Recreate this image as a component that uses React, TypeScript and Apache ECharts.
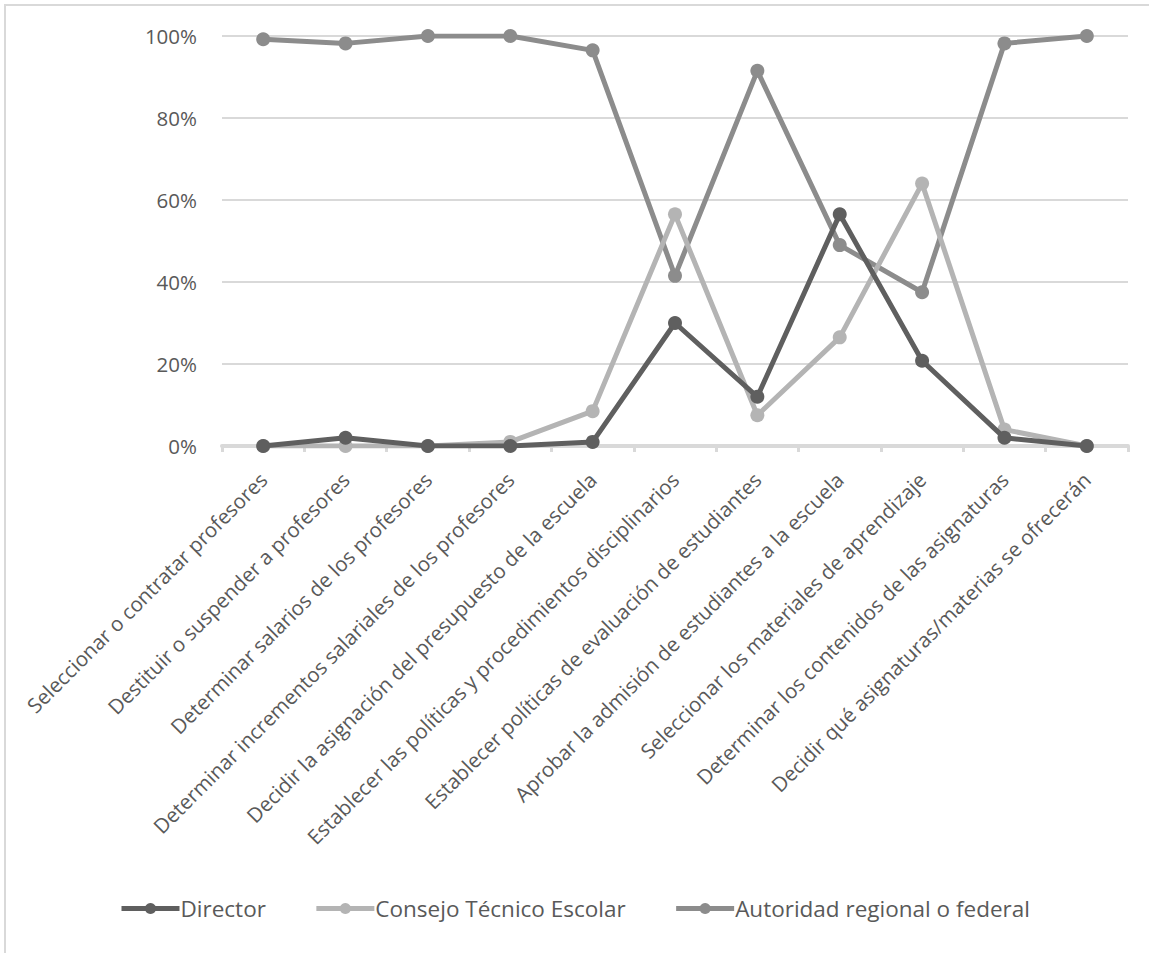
import React, { useEffect, useRef } from "react";
import * as echarts from "echarts";

const categories = [
  "Seleccionar o contratar profesores",
  "Destituir o suspender a profesores",
  "Determinar salarios de los profesores",
  "Determinar incrementos salariales de los profesores",
  "Decidir la asignación del presupuesto de la escuela",
  "Establecer las políticas y procedimientos disciplinarios",
  "Establecer políticas de evaluación de estudiantes",
  "Aprobar la admisión de estudiantes a la escuela",
  "Seleccionar los materiales de aprendizaje",
  "Determinar los contenidos de las asignaturas",
  "Decidir qué asignaturas/materias se ofrecerán",
];

const director = [0, 2, 0, 0, 1, 30, 12, 56.5, 20.8, 2, 0];
const consejo = [0, 0, 0, 1, 8.5, 56.5, 7.5, 26.5, 64, 4, 0];
const autoridad = [99.2, 98.2, 100, 100, 96.5, 41.5, 91.5, 49, 37.5, 98.2, 100];

const seriesNames = ["Director", "Consejo Técnico Escolar", "Autoridad regional o federal"];
const seriesColors = ["#5f5f5f", "#b4b4b4", "#8c8c8c"];

const FONT = "Open Sans";

export default function App() {
  const ref = useRef<HTMLDivElement>(null);
  useEffect(() => {
    document.body.style.margin = "0";
    const chart = echarts.init(ref.current!, null, { renderer: "svg" });
    const data = [director, consejo, autoridad];
    chart.setOption({
      animation: false,
      backgroundColor: "#ffffff",
      textStyle: { fontFamily: FONT },
      graphic: [
        {
          type: "rect",
          shape: { x: 5, y: 5, width: 1300, height: 1100 },
          style: { fill: "none", stroke: "#d9d9d9", lineWidth: 2 },
          silent: true,
          z: -10,
        },
      ],
      grid: { left: 222, right: 21, top: 36, bottom: 507, containLabel: false },
      legend: {
        top: 892,
        left: 114,
        itemWidth: 58,
        itemHeight: 14,
        itemGap: 48,
        textStyle: { fontFamily: FONT, fontSize: 22.5, color: "#595959", padding: [0, 0, 0, -4] },
        data: seriesNames.map((n, i) => ({
          name: n,
          itemStyle: { color: seriesColors[i] },
          lineStyle: { color: seriesColors[i], width: 5 },
        })),
      },
      xAxis: {
        type: "category",
        data: categories,
        boundaryGap: true,
        axisLine: { lineStyle: { color: "#d9d9d9", width: 4 } },
        axisTick: { show: true, length: 6, lineStyle: { color: "#d9d9d9", width: 3 } },
        axisLabel: {
          rotate: 45,
          interval: 0,
          margin: 30,
          fontFamily: FONT,
          fontSize: 20.5,
          color: "#595959",
        },
      },
      yAxis: {
        type: "value",
        min: 0,
        max: 100,
        interval: 20,
        axisLine: { show: false },
        axisTick: { show: false },
        splitLine: { lineStyle: { color: "#d9d9d9", width: 2 } },
        axisLabel: {
          formatter: "{value}%",
          margin: 25,
          fontFamily: FONT,
          fontSize: 20.5,
          color: "#595959",
        },
      },
      series: data.map((d, i) => ({
        name: seriesNames[i],
        type: "line",
        data: d,
        symbol: "circle",
        symbolSize: 14,
        lineStyle: { color: seriesColors[i], width: 5 },
        itemStyle: { color: seriesColors[i] },
        z: 3 + (i === 2 ? 0 : i === 0 ? 2 : 1),
      })),
    });
    return () => chart.dispose();
  }, []);
  return <div ref={ref} style={{ width: 1149, height: 953 }} />;
}
